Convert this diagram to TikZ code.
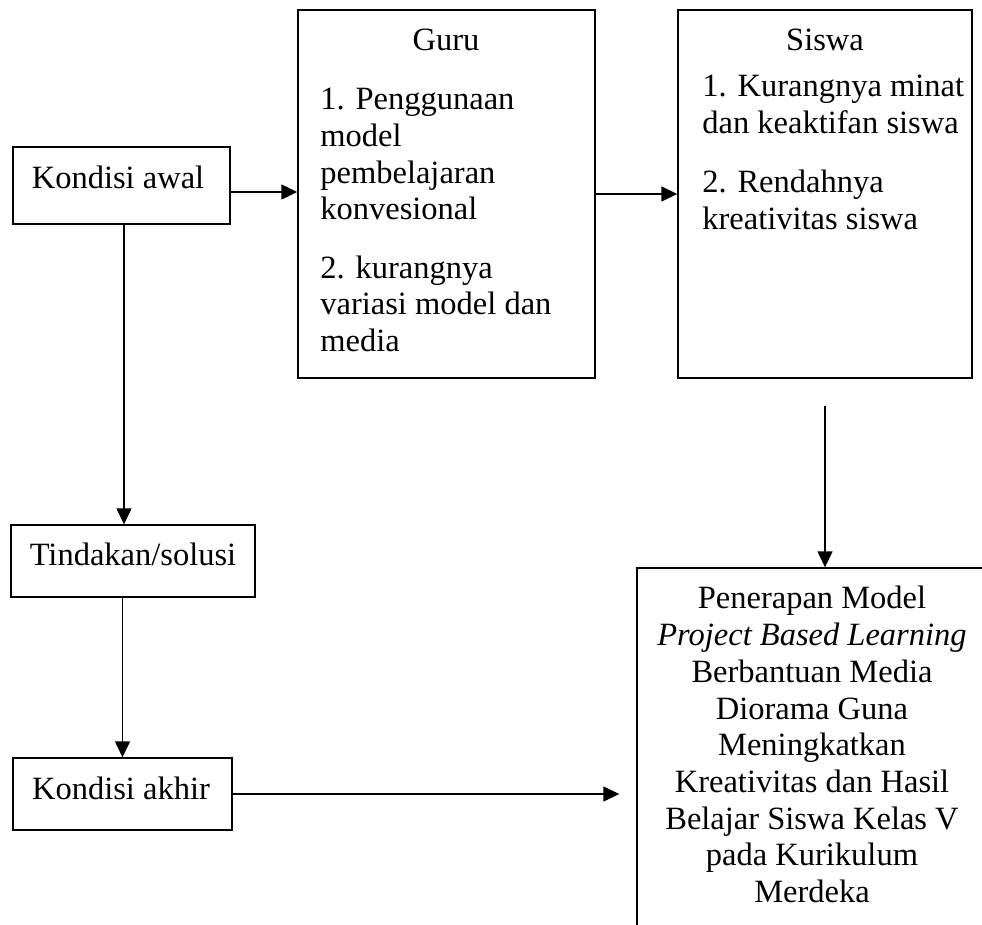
\documentclass[tikz,border=0pt]{standalone}
\usepackage{fontspec}
\setmainfont{Liberation Serif}
\usetikzlibrary{arrows.meta,fit}

\begin{document}
\begin{tikzpicture}[x=0.02cm, y=-0.02cm,
    kotak/.style={draw, line width=0.8pt, inner sep=0pt},
    teks/.style={inner sep=0pt, font=\fontsize{18.5pt}{20.9pt}\selectfont},
    panah/.style={line width=0.8pt, -{Triangle[length=0.32cm,width=0.3cm]}}]
        % Batas gambar
        \useasboundingbox (0,0) rectangle (982,924);
        \clip (0,0) rectangle (982,924);

        % Kotak-kotak
        \node[kotak, fit={(13,147) (230,224)}] (awal) {};
        \node[kotak, fit={(298,10) (595,378)}] (guru) {};
        \node[kotak, fit={(678,10) (972,378)}] (siswa) {};
        \node[kotak, fit={(11,525) (255,597)}] (solusi) {};
        \node[kotak, fit={(13,758) (232,830)}] (akhir) {};
        \node[kotak, fit={(637,568) (988,940)}] (hasil) {};

        % Teks
        \node[teks, anchor=base] (awal-t) at (118,188) {Kondisi awal};
        \node[teks, anchor=base] (guru-t) at (446,50) {Guru};
        \node[teks, anchor=north west, align=left] (guru-isi) at (320,88)
            {1. Penggunaan\\model\\pembelajaran\\konvesional\\[0.43cm]2. kurangnya\\variasi model dan\\media};
        \node[teks, anchor=base] (siswa-t) at (825,50) {Siswa};
        \node[teks, anchor=north west, align=left] (siswa-isi) at (702,75)
            {1. Kurangnya minat\\dan keaktifan siswa\\[0.44cm]2. Rendahnya\\kreativitas siswa};
        \node[teks, anchor=base] (solusi-t) at (133,565) {Tindakan/solusi};
        \node[teks, anchor=base] (akhir-t) at (121,799) {Kondisi akhir};
        \node[teks, anchor=north, align=center] (hasil-t) at (812,586)
            {Penerapan Model\\\textit{Project Based Learning}\\Berbantuan Media\\Diorama Guna\\Meningkatkan\\Kreativitas dan Hasil\\Belajar Siswa Kelas V\\pada Kurikulum\\Merdeka};

        % Panah
        \draw[panah] ([yshift=-0.13cm]awal.east) -- ([yshift=-0.13cm]awal.east -| guru.west);
        \draw[panah] (guru.east) -- (siswa.west);
        \draw[panah] ([xshift=0.05cm]awal.south) -- ([xshift=0.05cm]awal.south |- solusi.north);
        \draw[panah] (solusi.south -| akhir.north) -- (akhir.north);
        \draw[panah] ([yshift=-0.54cm]siswa.south) -- (siswa.south |- hasil.north);
        \draw[panah] (akhir.east) -- ([xshift=-0.34cm]akhir.east -| hasil.west);
\end{tikzpicture}
\end{document}
